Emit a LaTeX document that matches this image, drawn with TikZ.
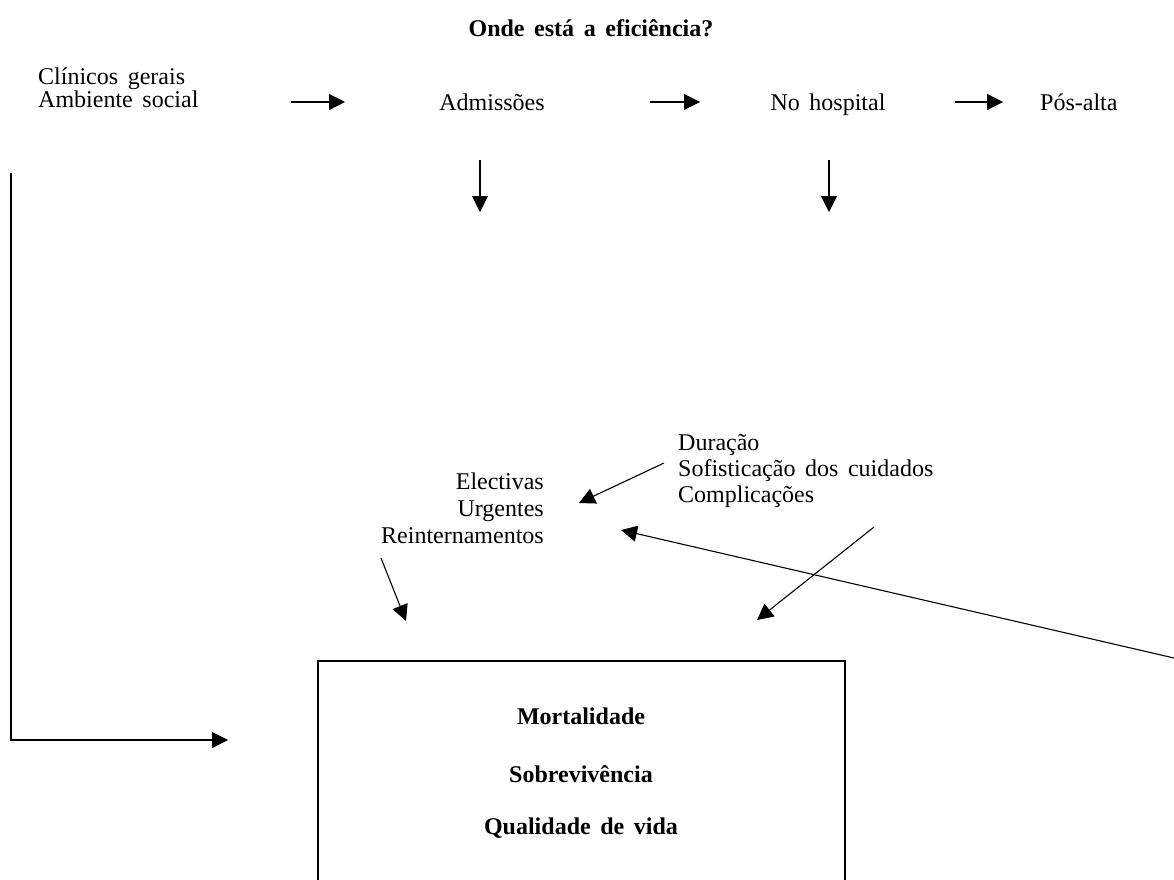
\documentclass[tikz,border=0pt]{standalone}
\usepackage{fontspec}
\setmainfont[WordSpace=1.6]{Liberation Serif}
\usetikzlibrary{arrows.meta}
\begin{document}
\begin{tikzpicture}[x=1pt,y=-1pt,
  txt/.style={inner sep=0pt, font=\fontsize{24}{26}\selectfont},
  btxt/.style={inner sep=0pt, font=\fontsize{24}{26}\selectfont\bfseries},
  arr/.style={line width=1.1pt, -{Triangle[length=16pt,width=16pt]}},
  boxst/.style={draw, line width=1.1pt, inner sep=0pt}]
\useasboundingbox (0,0) rectangle (1174,879);
% title
\node[btxt] (title) at (591,28) {Onde está a eficiência?};
% top row
\node[txt, anchor=base west] (cg) at (38,84) {Clínicos gerais};
\node[txt, anchor=base west] (as) at (38,107) {Ambiente social};
\node[txt, anchor=base] (adm) at (492,110) {Admissões};
\node[txt, anchor=base] (hosp) at (828,110) {No hospital};
\node[txt, anchor=base west] (pos) at (1040,110) {Pós-alta};
\coordinate (h1s) at (291,102); \coordinate (h1e) at (345,102);
\coordinate (h2s) at (650,102); \coordinate (h2e) at (700,102);
\coordinate (h3s) at (955,102); \coordinate (h3e) at (1003,102);
\draw[arr] (h1s) -- (h1e);
\draw[arr] (h2s) -- (h2e);
\draw[arr] (h3s) -- (h3e);
\coordinate (d1s) at (480,160); \coordinate (d1e) at (480,212);
\coordinate (d2s) at (829,160); \coordinate (d2e) at (829,212);
\draw[arr] (d1s) -- (d1e);
\draw[arr] (d2s) -- (d2e);
% middle texts
\node[txt, anchor=base west] (dur) at (678,450) {Duração};
\node[txt, anchor=base west] (sof) at (678,476) {Sofisticação dos cuidados};
\node[txt, anchor=base west] (comp) at (678,502) {Complicações};
\node[txt, anchor=base east] (ele) at (544,489) {Electivas};
\node[txt, anchor=base east] (urg) at (544,516) {Urgentes};
\node[txt, anchor=base east] (rein) at (544,543) {Reinternamentos};
% box
\node[boxst, minimum width=527pt, minimum height=223pt] (box) at (581.5,772.5) {};
\node[btxt, anchor=base] (mort) at (581,724) {Mortalidade};
\node[btxt, anchor=base] (sobr) at (581,782) {Sobrevivência};
\node[btxt, anchor=base] (qual) at (581,834) {Qualidade de vida};
% diagonal arrows
\coordinate (a1s) at (664,463); \coordinate (a1e) at (579,503);
\coordinate (a2s) at (874,527); \coordinate (a2e) at (757,620);
\coordinate (a3s) at (381,558); \coordinate (a3e) at (406,621);
\coordinate (a4s) at (1174,658); \coordinate (a4e) at (621,530);
\draw[arr] (a1s) -- (a1e);
\draw[arr] (a2s) -- (a2e);
\draw[arr] (a3s) -- (a3e);
\draw[arr] (a4s) -- (a4e);
% left feedback
\coordinate (l1) at (11,173); \coordinate (l2) at (11,740); \coordinate (l3) at (228,740);
\draw[arr] (l1) -- (l2) -- (l3);
\end{tikzpicture}
\end{document}
